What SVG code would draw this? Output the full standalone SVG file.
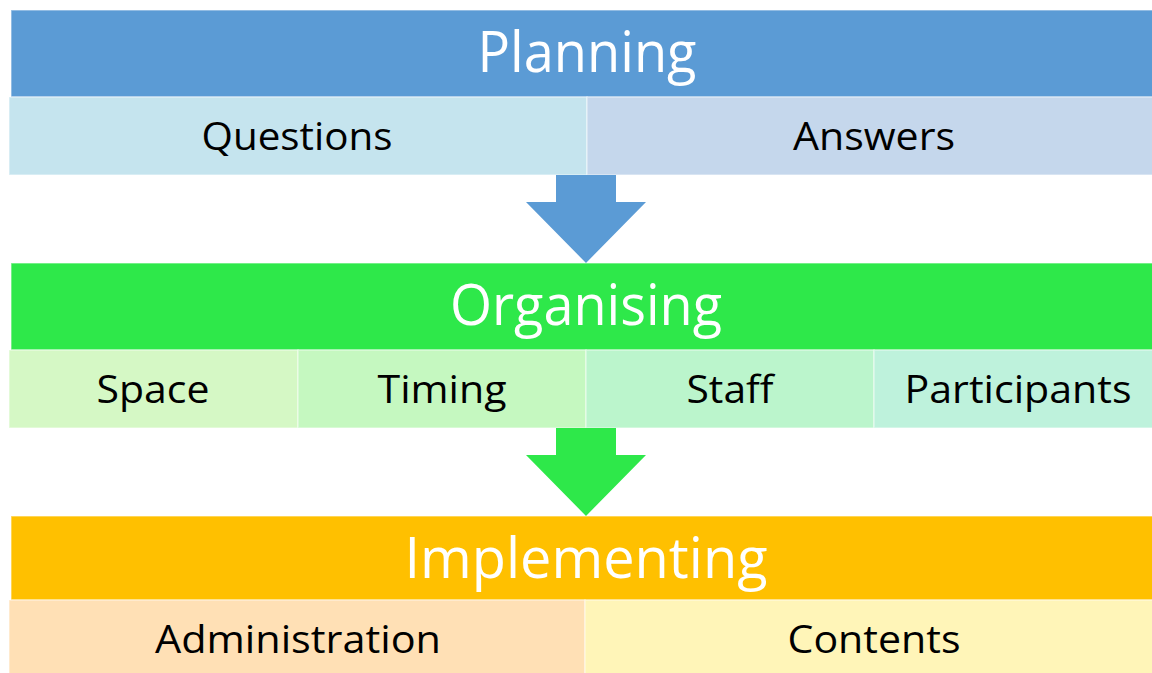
<svg xmlns="http://www.w3.org/2000/svg" width="1152" height="673" viewBox="0 0 1152 673">
  <style>
    .cell { stroke: #ffffff; stroke-opacity: 0.45; stroke-width: 1.5; }
    .head-text { font-family: "Open Sans", "Noto Sans", sans-serif; font-size: 56px; fill: #ffffff; text-anchor: middle; }
    .sub-text { font-family: "Open Sans", "Noto Sans", sans-serif; font-size: 39px; fill: #000000; text-anchor: middle; }
  </style>
  <rect width="1152" height="673" fill="#ffffff"/>

  <!-- Stage 1: Planning -->
  <g id="planning">
    <rect class="cell" x="11" y="10" width="1142" height="87" fill="#5B9BD5"/>
    <text class="head-text" x="587" y="72" textLength="219" lengthAdjust="spacingAndGlyphs">Planning</text>
  </g>
  <g id="questions">
    <rect class="cell" x="9" y="97" width="578" height="78" fill="#C5E4EE"/>
    <text class="sub-text" x="297" y="150" textLength="191" lengthAdjust="spacingAndGlyphs">Questions</text>
  </g>
  <g id="answers">
    <rect class="cell" x="587" y="97" width="566" height="78" fill="#C5D7EC"/>
    <text class="sub-text" x="874" y="150" textLength="162" lengthAdjust="spacingAndGlyphs">Answers</text>
  </g>

  <!-- Stage 2: Organising -->
  <g id="organising">
    <rect class="cell" x="11" y="263" width="1142" height="87" fill="#2EE84A"/>
    <text class="head-text" x="586" y="325" textLength="272" lengthAdjust="spacingAndGlyphs">Organising</text>
  </g>
  <g id="space">
    <rect class="cell" x="9" y="350" width="289" height="78" fill="#D5F8C5"/>
    <text class="sub-text" x="153" y="403" textLength="113" lengthAdjust="spacingAndGlyphs">Space</text>
  </g>
  <g id="timing">
    <rect class="cell" x="298" y="350" width="288" height="78" fill="#C5F8C0"/>
    <text class="sub-text" x="442" y="403" textLength="129" lengthAdjust="spacingAndGlyphs">Timing</text>
  </g>
  <g id="staff">
    <rect class="cell" x="586" y="350" width="288" height="78" fill="#BBF5CC"/>
    <text class="sub-text" x="730" y="403" textLength="87" lengthAdjust="spacingAndGlyphs">Staff</text>
  </g>
  <g id="participants">
    <rect class="cell" x="874" y="350" width="279" height="78" fill="#BEF2DC"/>
    <text class="sub-text" x="1018" y="403" textLength="227" lengthAdjust="spacingAndGlyphs">Participants</text>
  </g>

  <!-- Stage 3: Implementing -->
  <g id="implementing">
    <rect class="cell" x="11" y="516" width="1142" height="84" fill="#FFC000"/>
    <text class="head-text" x="586" y="578" textLength="363" lengthAdjust="spacingAndGlyphs">Implementing</text>
  </g>
  <g id="administration">
    <rect class="cell" x="9" y="600" width="576" height="74" fill="#FFE0B5"/>
    <text class="sub-text" x="298" y="653" textLength="286" lengthAdjust="spacingAndGlyphs">Administration</text>
  </g>
  <g id="contents">
    <rect class="cell" x="585" y="600" width="568" height="74" fill="#FFF5B8"/>
    <text class="sub-text" x="874" y="653" textLength="173" lengthAdjust="spacingAndGlyphs">Contents</text>
  </g>

  <!-- Block arrows between stages -->
  <g id="connectors">
    <polygon points="556,175 616,175 616,202 646,202 586,263 526,202 556,202" fill="#5B9BD5"/>
    <polygon points="556,428 616,428 616,455 646,455 586,516 526,455 556,455" fill="#2EE84A"/>
  </g>
</svg>
